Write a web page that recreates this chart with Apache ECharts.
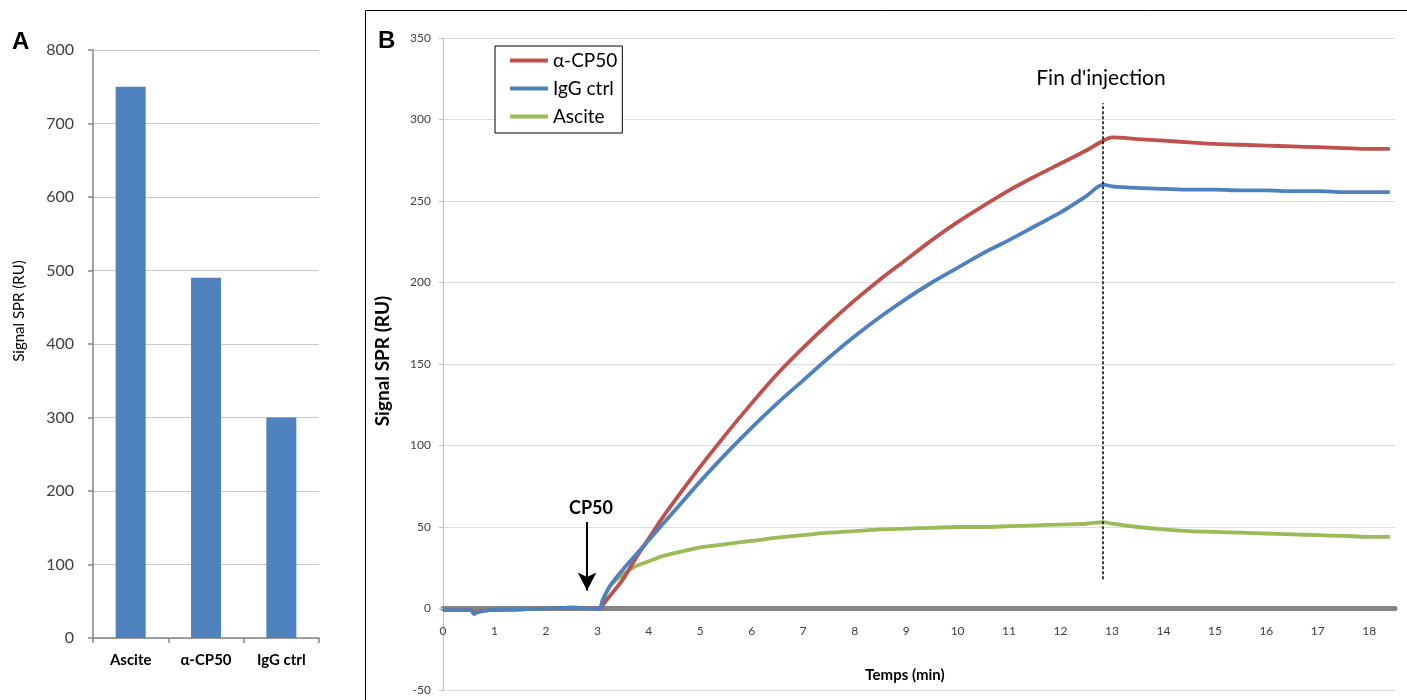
<!DOCTYPE html>
<html>
<head>
<meta charset="utf-8">
<script src="https://cdn.jsdelivr.net/npm/echarts@6/dist/echarts.min.js"></script>
<style>
html,body{margin:0;padding:0;background:#fff;}
#c{width:1407px;height:700px;}
</style>
</head>
<body>
<div id="c"></div>
<script>
// Panel A data
const barCategories = ['Ascite', 'α-CP50', 'IgG ctrl'];
const barValues = [750, 490, 300];

// Panel B data (time in min, signal in RU)
const timeMin = [0, 0.3, 0.55, 0.6, 0.65, 0.9, 1.5, 2, 2.5, 3.0, 3.05, 3.1, 3.25, 3.5, 3.75, 4, 4.25, 4.5, 5, 5.5, 6, 6.5, 7, 7.5, 8, 8.5, 9, 9.5, 10, 10.5, 11, 11.5, 12, 12.5, 12.83, 13, 13.5, 14, 14.5, 15, 15.5, 16, 16.5, 17, 17.5, 18, 18.4];
const antiCP50 = [-1, -1, -1, -3, -2, -1, -0.5, 0, 0.5, 0, 0, 2, 8, 18, 31, 43, 55, 66, 87, 107, 126, 144, 160, 175, 189, 202, 214, 226, 237, 247, 256.5, 265, 273, 281, 287, 289, 288, 287, 286, 285, 284.5, 284, 283.5, 283, 282.5, 282, 282];
const igGctrl = [-1, -1, -1, -3.5, -2.5, -1, -0.5, 0, 0.5, 0, 0, 5, 14, 24, 33, 42, 51, 60, 78, 95, 111, 126, 140, 154, 167, 179, 190, 200, 209, 218, 226, 234.5, 243, 253, 260, 259, 258, 257.5, 257, 257, 256.5, 256.5, 256, 256, 255.5, 255.5, 255.5];
const ascite = [-1, -1, -1, -3, -2, -1, -0.5, 0, 0.5, 0, 0, 4, 14, 21, 26, 29, 32, 34, 37.5, 39.5, 41.5, 43.5, 45, 46.5, 47.5, 48.5, 49, 49.5, 50, 50, 50.5, 51, 51.5, 52, 53, 52, 50, 48.5, 47.5, 47, 46.5, 46, 45.5, 45, 44.5, 44, 44];
const injectionEnd = 12.83;
const injectionStart = 2.8;

const zip = (xs, ys) => xs.map((x, i) => [x, ys[i]]);
const FONT = 'Lato, "Open Sans", sans-serif';

const chart = echarts.init(document.getElementById('c'), null, {renderer: 'canvas'});

const option = {
  animation: false,
  backgroundColor: '#fff',
  textStyle: {fontFamily: FONT},
  grid: [
    {left: 93, top: 50, width: 226, height: 588, containLabel: false, outerBoundsMode: 'none'},
    {left: 443, top: 38, width: 952, height: 652, containLabel: false, outerBoundsMode: 'none'}
  ],
  legend: {
    left: 495, top: 46,
    orient: 'vertical',
    data: ['α-CP50', 'IgG ctrl', 'Ascite'],
    icon: 'rect',
    itemWidth: 38, itemHeight: 4, itemGap: 9,
    padding: [5, 5, 7, 15],
    borderColor: '#000', borderWidth: 1,
    backgroundColor: '#fff',
    textStyle: {fontSize: 19, color: '#000', fontFamily: FONT}
  },
  xAxis: [
    {
      type: 'category', gridIndex: 0, data: barCategories,
      axisLine: {lineStyle: {color: '#868686', width: 1.5}},
      axisTick: {show: true, length: 5, lineStyle: {color: '#868686', width: 1.5}},
      axisLabel: {fontSize: 15, fontWeight: 'bold', color: '#000', margin: 15, fontFamily: FONT}
    },
    {
      type: 'value', gridIndex: 1, min: 0, max: 18.5, interval: 1,
      position: 'bottom', offset: -81.5,
      axisLine: {onZero: false, lineStyle: {color: '#858585', width: 5}},
      axisTick: {show: false},
      splitLine: {show: false},
      axisLabel: {fontSize: 12, color: '#404040', margin: 17, fontFamily: FONT,
        formatter: v => (Number.isInteger(v) ? String(v) : '')}
    }
  ],
  yAxis: [
    {
      type: 'value', gridIndex: 0, min: 0, max: 800, interval: 100,
      axisLine: {show: true, lineStyle: {color: '#868686', width: 1.5}},
      axisTick: {show: true, length: 5, lineStyle: {color: '#868686', width: 1.5}},
      splitLine: {lineStyle: {color: '#c8c8c8', width: 1.2}},
      axisLabel: {fontSize: 16, color: '#404040', margin: 19, fontFamily: FONT}
    },
    {
      type: 'value', gridIndex: 1, min: -50, max: 350, interval: 50,
      axisLine: {show: true, lineStyle: {color: '#c0c0c0', width: 1}},
      axisTick: {show: true, length: 4, lineStyle: {color: '#c0c0c0'}},
      splitLine: {lineStyle: {color: '#dcdcdc', width: 1}},
      axisLabel: {fontSize: 12, color: '#404040', margin: 12, fontFamily: FONT}
    }
  ],
  series: [
    {
      type: 'bar', xAxisIndex: 0, yAxisIndex: 0, data: barValues,
      barWidth: 30, itemStyle: {color: '#4f81bd'}, silent: true
    },
    {
      name: 'Ascite', type: 'line', xAxisIndex: 1, yAxisIndex: 1,
      data: zip(timeMin, ascite), showSymbol: false, smooth: 0.3,
      lineStyle: {color: '#9bbb59', width: 3.8}, itemStyle: {color: '#9bbb59'}
    },
    {
      name: 'α-CP50', type: 'line', xAxisIndex: 1, yAxisIndex: 1,
      data: zip(timeMin, antiCP50), showSymbol: false, smooth: 0.3,
      lineStyle: {color: '#c0504d', width: 3.8}, itemStyle: {color: '#c0504d'},
      markLine: {
        silent: true, animation: false,
        label: {show: false},
        data: [
          [{coord: [injectionEnd, 18], symbol: 'none', lineStyle: {color: '#000', width: 1.5, type: [3, 2]}},
           {coord: [injectionEnd, 310], symbol: 'none'}],
          [{coord: [injectionStart, 53], symbol: 'none', lineStyle: {color: '#000', width: 2, type: 'solid'}},
           {coord: [injectionStart, 11], symbol: 'arrow', symbolSize: [14, 18]}]
        ]
      }
    },
    {
      name: 'IgG ctrl', type: 'line', xAxisIndex: 1, yAxisIndex: 1,
      data: zip(timeMin, igGctrl), showSymbol: false, smooth: 0.3,
      lineStyle: {color: '#4f81bd', width: 3.8}, itemStyle: {color: '#4f81bd'}
    }
  ],
  graphic: [
    {type: 'rect', z: -10, shape: {x: 365.5, y: 10.5, width: 1100, height: 800},
     style: {fill: 'none', stroke: '#000', lineWidth: 1}},
    {type: 'text', left: 12, top: 30, style: {text: 'A', font: 'bold 24px Arial, "Liberation Sans", sans-serif', fill: '#000'}},
    {type: 'text', left: 378, top: 29, style: {text: 'B', font: 'bold 24px Arial, "Liberation Sans", sans-serif', fill: '#000'}},
    {type: 'text', x: 19, y: 311, rotation: Math.PI / 2, style: {text: 'Signal SPR (RU)', font: '15px ' + FONT, fill: '#000', align: 'center', verticalAlign: 'middle'}},
    {type: 'text', x: 383, y: 361, rotation: Math.PI / 2, style: {text: 'Signal SPR (RU)', font: 'bold 19px ' + FONT, fill: '#000', align: 'center', verticalAlign: 'middle'}},
    {type: 'text', x: 905, y: 675, style: {text: 'Temps (min)', font: 'bold 15px ' + FONT, fill: '#000', align: 'center', verticalAlign: 'middle'}},
    {type: 'text', x: 1101, y: 78, style: {text: "Fin d'injection", font: '21px ' + FONT, fill: '#000', align: 'center', verticalAlign: 'middle'}},
    {type: 'text', x: 591, y: 508, style: {text: 'CP50', font: 'bold 18px ' + FONT, fill: '#000', align: 'center', verticalAlign: 'middle'}}
  ]
};
chart.setOption(option);
</script>
</body>
</html>
